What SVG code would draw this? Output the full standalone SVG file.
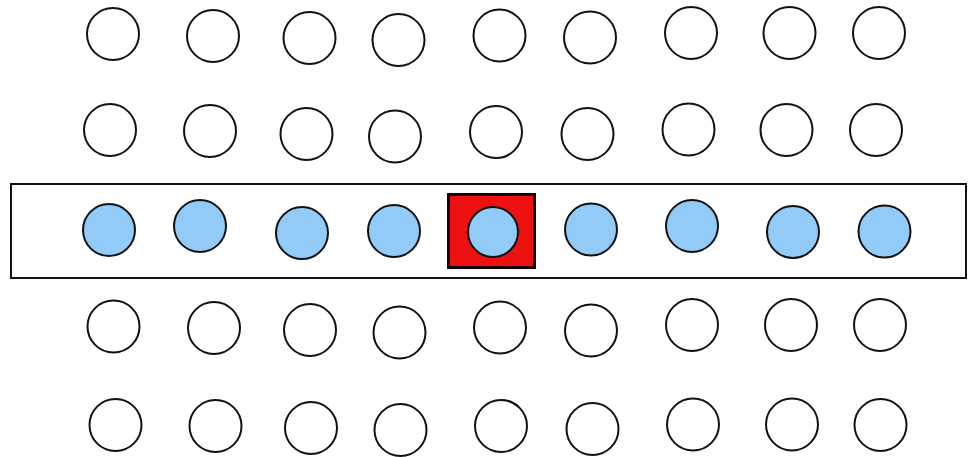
<svg xmlns="http://www.w3.org/2000/svg" width="968" height="457" viewBox="0 0 968 457">
<style>
.o{fill:#fff;stroke:#111;stroke-width:2}
.b{fill:#92CBF7;stroke:#111;stroke-width:2}
</style>
<rect width="968" height="457" fill="#fff"/>
<g id="band"><rect x="11" y="184" width="955" height="94" fill="#fff" stroke="#111" stroke-width="2"/></g>
<g id="row1">
<circle class="o" cx="113" cy="34" r="26"/>
<circle class="o" cx="213" cy="36" r="26"/>
<circle class="o" cx="309.5" cy="38" r="26"/>
<circle class="o" cx="398.5" cy="40" r="26"/>
<circle class="o" cx="499.5" cy="35.5" r="26"/>
<circle class="o" cx="590" cy="37.5" r="26"/>
<circle class="o" cx="691" cy="33" r="26"/>
<circle class="o" cx="789.5" cy="33" r="26"/>
<circle class="o" cx="879" cy="33" r="26"/>
</g>
<g id="row2">
<circle class="o" cx="110" cy="130" r="26"/>
<circle class="o" cx="210" cy="131" r="26"/>
<circle class="o" cx="306.5" cy="134" r="26"/>
<circle class="o" cx="395" cy="136.5" r="26"/>
<circle class="o" cx="496" cy="132" r="26"/>
<circle class="o" cx="587.5" cy="134" r="26"/>
<circle class="o" cx="688.5" cy="129.5" r="26"/>
<circle class="o" cx="786.5" cy="130" r="26"/>
<circle class="o" cx="876" cy="130" r="26"/>
</g>
<g id="highlight"><rect x="448.5" y="194.5" width="86" height="73" fill="#EE1111" stroke="#1a0000" stroke-width="3"/></g>
<g id="row3">
<circle class="b" cx="109" cy="230" r="26"/>
<circle class="b" cx="200" cy="226" r="26"/>
<circle class="b" cx="302" cy="233" r="26"/>
<circle class="b" cx="394" cy="231" r="26"/>
<circle class="b" cx="493" cy="232" r="25"/>
<circle class="b" cx="591" cy="229.5" r="26"/>
<circle class="b" cx="692" cy="226" r="26"/>
<circle class="b" cx="793" cy="232" r="26"/>
<circle class="b" cx="884.5" cy="231.5" r="26"/>
</g>
<g id="row4">
<circle class="o" cx="113.5" cy="326.5" r="26"/>
<circle class="o" cx="214" cy="328" r="26"/>
<circle class="o" cx="310" cy="330" r="26"/>
<circle class="o" cx="399.5" cy="332.5" r="26"/>
<circle class="o" cx="500" cy="327.5" r="26"/>
<circle class="o" cx="591" cy="330.5" r="26"/>
<circle class="o" cx="692" cy="325" r="26"/>
<circle class="o" cx="791" cy="325" r="26"/>
<circle class="o" cx="880" cy="325" r="26"/>
</g>
<g id="row5">
<circle class="o" cx="115.5" cy="425" r="26"/>
<circle class="o" cx="215.5" cy="426" r="26"/>
<circle class="o" cx="311" cy="428" r="26"/>
<circle class="o" cx="400.5" cy="430" r="26"/>
<circle class="o" cx="501" cy="426" r="26"/>
<circle class="o" cx="592.5" cy="429" r="26"/>
<circle class="o" cx="693" cy="424.5" r="26"/>
<circle class="o" cx="792" cy="424.5" r="26"/>
<circle class="o" cx="880.5" cy="425" r="26"/>
</g>
<g id="connectors"></g>
</svg>
